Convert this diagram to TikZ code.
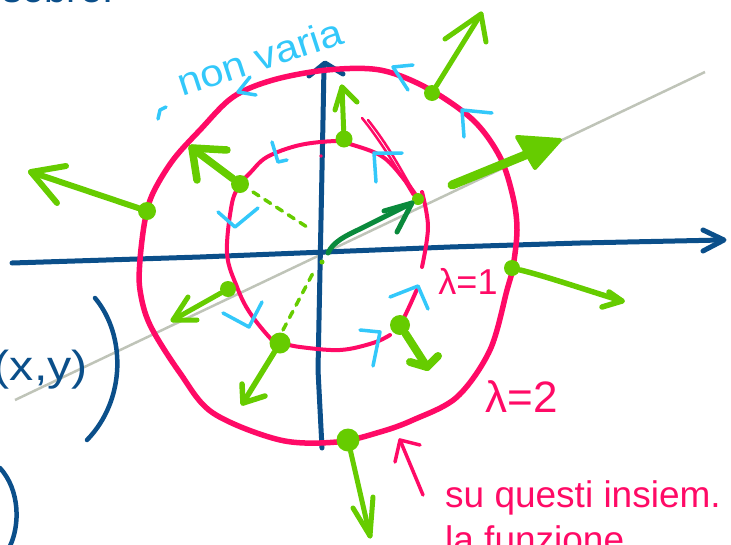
\documentclass[tikz,border=0pt]{standalone}
\usepackage{fontspec}
\setmainfont{Liberation Sans}
\usetikzlibrary{arrows.meta}
\definecolor{pinkc}{HTML}{FF0A66}
\definecolor{axisblue}{HTML}{0B4F8A}
\definecolor{gr}{HTML}{66CC00}
\definecolor{dkgr}{HTML}{0A8A3C}
\definecolor{cy}{HTML}{33C8FA}
\definecolor{pencil}{RGB}{170,176,160}
\begin{document}
\begin{tikzpicture}[x=1pt,y=-1pt,
  pinkout/.style={draw=pinkc,line width=5.5pt,line cap=round,line join=round},
  pinkin/.style={draw=pinkc,line width=4pt,line cap=round,line join=round},
  axisline/.style={draw=axisblue,line width=5pt,line cap=round,line join=round},
  gline/.style={draw=gr,line width=5pt,line cap=round,line join=round},
  gthick/.style={gline,line width=7.5pt},
  gdash/.style={draw=gr,line width=3.5pt,line cap=round,dash pattern=on 7pt off 7pt},
  cymark/.style={draw=cy,line width=3.5pt,line cap=round,line join=round},
  gdot/.style={circle,fill=gr,inner sep=0pt,minimum size=#1},
  gdot/.default=17pt,
  pinktext/.style={text=pinkc,inner sep=0pt},
  bluetext/.style={text=axisblue,inner sep=0pt},
]
\useasboundingbox (0,0) rectangle (731,544);

% pencil line
\draw[pencil,line width=2.5pt,opacity=0.75] (15,400) -- (705,72);

% axes
\draw[axisline] (12,263) -- (200,257) -- (450,247) -- (580,243) -- (722,240);
\draw[axisline] (703,230) -- (724,240) -- (703,251);
\draw[axisline] (322,448) -- (318,370) -- (323,120) -- (324,66);
\draw[axisline] (309,76) -- (325,63) -- (343,74);

% outer level set
\draw[pinkout] plot[smooth cycle,tension=0.55] coordinates {(140,260) (145,220) (153,193) (173,160) (200,130) (233,97) (273,80) (327,70) (380,70) (427,88) (473,120) (500,157) (513,197) (517,230) (513,267) (507,290) (490,350) (457,397) (413,420) (380,432) (337,442) (280,440) (213,413) (180,373) (150,325) (140,290)};

% inner level set
\draw[pinkin] plot[smooth,tension=0.6] coordinates {(240,183) (250,173) (267,157) (300,145) (337,141) (350,144) (383,157) (407,183) (417,197)};
\draw[pinkin] plot[smooth,tension=0.6] coordinates {(422,192) (428,227) (422,267)};
\draw[pinkin] plot[smooth,tension=0.6] coordinates {(418,287) (410,305) (402,322)};
\draw[pinkin] plot[smooth,tension=0.6] coordinates {(390,335) (373,343) (340,350) (300,347) (282,343)};
\draw[pinkin] plot[smooth,tension=0.6] coordinates {(280,343) (272,340) (250,313) (237,287) (227,253) (232,203) (240,185)};
\draw[pinkc,line width=2.5pt,line cap=round] (362,118) .. controls (380,140) and (398,170) .. (413,195);
\draw[pinkc,line width=2.5pt,line cap=round] (368,120) .. controls (388,145) and (400,168) .. (411,187);
\fill[pinkc] (321,156) circle (1.8pt);

% gradient dots
\node[gdot=18pt] (oL) at (147,211) {};
\node[gdot=16pt] (oTR) at (432,93) {};
\node[gdot=16pt] (oR) at (512,268) {};
\node[gdot=23pt] (oB) at (348,440) {};
\node[gdot=18pt] (iTL) at (240,184) {};
\node[gdot=17pt] (iT) at (344,139) {};
\node[gdot=12pt] (iR) at (418,199) {};
\node[gdot=16pt] (iL) at (228,289) {};
\node[gdot=21pt] (iBL) at (280,343) {};
\node[gdot=20pt] (iBR) at (400,325) {};
\node[gdot=5pt] (O) at (322,262) {};
\coordinate (Os) at (328,253);

% tips and barbs
\coordinate (t1) at (31,172); \coordinate (b1a) at (66,166); \coordinate (b1b) at (57,203);
\coordinate (t2) at (192,148); \coordinate (b2a) at (227,150); \coordinate (b2b) at (197,180);
\coordinate (t3) at (481,14); \coordinate (b3a) at (445,39); \coordinate (b3b) at (486,42);
\coordinate (t4) at (342,87); \coordinate (b4a) at (335,110); \coordinate (b4b) at (357,102);
\coordinate (t5) at (412,203); \coordinate (b5a) at (384,211); \coordinate (b5b) at (397,232);
\coordinate (s6) at (452,185); \coordinate (t6) at (545,147);
\coordinate (h6a) at (517,137); \coordinate (h6b) at (560,140); \coordinate (h6c) at (535,168);
\coordinate (t7) at (622,301); \coordinate (b7a) at (609,292); \coordinate (b7b) at (602,307);
\coordinate (t8) at (427,367); \coordinate (b8a) at (410,362); \coordinate (b8b) at (438,356);
\coordinate (t9) at (243,403); \coordinate (b9a) at (242,384); \coordinate (b9b) at (265,396);
\coordinate (t10) at (173,320); \coordinate (b10a) at (188,297); \coordinate (b10b) at (197,320);
\coordinate (t11) at (370,536); \coordinate (b11a) at (353,508); \coordinate (b11b) at (373,497);

% gradient arrows
\draw[gline,line width=6pt] (oL) -- (t1);
\draw[gline,line width=6pt] (b1a) -- (t1) -- (b1b);
\draw[gthick] (iTL) -- (t2);
\draw[gthick] (b2a) -- (t2) -- (b2b);
\draw[gline] (oTR) -- (t3);
\draw[gline] (b3a) -- (t3) -- (b3b);
\draw[gline] (iT) -- (t4);
\draw[gline] (b4a) -- (t4) -- (b4b);
\draw[dkgr,line width=5pt,line cap=round,line join=round] (Os) .. controls (333,242) and (345,236) .. (360,229) -- (t5);
\draw[dkgr,line width=5pt,line cap=round,line join=round] (b5a) -- (t5) -- (b5b);
\draw[gline,line width=9pt] (s6) -- (t6);
\filldraw[gr,line width=4pt,line join=round] (h6a) -- (h6b) -- (h6c) -- cycle;
\draw[gline,line width=5.5pt] (oR) .. controls (545,276) and (580,288) .. (t7);
\draw[gline,line width=5.5pt] (b7a) -- (t7) -- (b7b);
\draw[gline,line width=8pt] (iBR) -- (t8);
\draw[gline,line width=8pt] (b8a) -- (t8) -- (b8b);
\draw[gline,line width=5.5pt] (iBL) -- (t9);
\draw[gline,line width=5.5pt] (b9a) -- (t9) -- (b9b);
\draw[gline,line width=5pt] (iL) -- (t10);
\draw[gline,line width=5pt] (b10a) -- (t10) -- (b10b);
\draw[gline,line width=5pt] (oB) -- (t11);
\draw[gline,line width=5pt] (b11a) -- (t11) -- (b11b);
\draw[gdash] (253,192) -- (307,227);
\draw[gdash] (283,330) -- (313,273);

% direction marks
\draw[cymark] (272,142) -- (278,162) -- (287,160);
\draw[cymark] (402,153) -- (374,153) -- (376,182);
\draw[cymark] (218,212) -- (235,227) -- (258,208);
\draw[cymark] (223,313) -- (249,327) -- (262,302);
\draw[cymark] (360,330) -- (380,332) -- (373,366);
\draw[cymark] (390,297) -- (418,286) -- (428,309);
\draw[cymark] (413,65) -- (393,67) -- (408,90);
\draw[cymark] (492,113) -- (462,110) -- (464,137);
\draw[cymark] (256,95) -- (238,92) -- (250,77);
\draw[cymark] (158,119) -- (160,110) -- (166,107);

% texts
\node[text=cy,inner sep=0pt,rotate=18,font=\fontsize{38}{38}\selectfont,xscale=1.1] (nv) at (260,57) {non varia};
\node[pinktext,font=\fontsize{36}{36}\selectfont] (l1) at (468,281) {λ=1};
\node[pinktext,font=\fontsize{44}{44}\selectfont] (l2) at (522,397) {λ=2};
\node[pinktext,anchor=base west,font=\fontsize{37}{37}\selectfont] (t1txt) at (445,507) {su questi insiem.};
\node[pinktext,anchor=base west,font=\fontsize{37}{37}\selectfont] (t2txt) at (445,552) {la funzione};
\draw[pinkin,line width=3.5pt] (423,495) -- (400,440);
\draw[pinkin,line width=3.5pt] (395,462) -- (400,440) -- (420,445);
\node[bluetext,anchor=base east,font=\fontsize{42}{42}\selectfont,xscale=1.15] (xy) at (88,380) {(x,y)};
\draw[axisline,line width=4.5pt] (95,298) .. controls (126,335) and (126,400) .. (87,440);
\draw[axisline,line width=4.5pt] (0,468) .. controls (20,490) and (20,525) .. (10,546);
\node[bluetext,anchor=base west,font=\fontsize{40}{40}\selectfont] (top) at (2,2) {sobre.};
\end{tikzpicture}
\end{document}
